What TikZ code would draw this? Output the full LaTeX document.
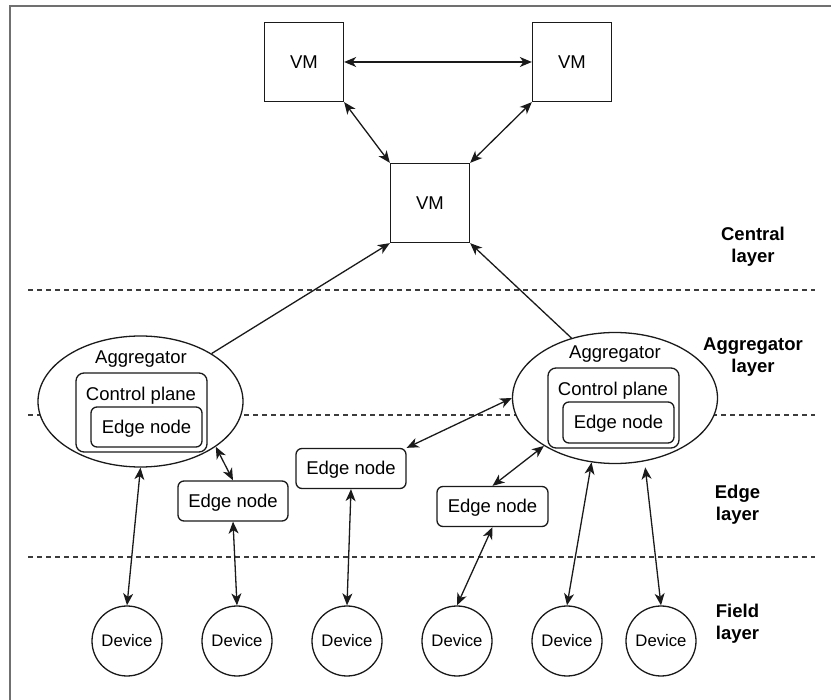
\documentclass[tikz,border=0pt]{standalone}
\usepackage{fontspec}
\setmainfont{Liberation Sans}
\usetikzlibrary{shapes.geometric,arrows.meta}
\definecolor{framegray}{HTML}{707070}
\definecolor{ink}{HTML}{1A1A1A}
\begin{document}
\begin{tikzpicture}[x=1pt,y=-1pt,
  tip/.tip={Stealth[length=12pt,width=10pt,inset=3.5pt]},
  txt/.style={font=\fontsize{18.5}{22}\selectfont, text=black, inner sep=0pt,
    text height=12.9pt, text depth=0pt},
  box/.style={draw=ink, line width=1.3pt, fill=white, inner sep=0pt, txt},
  vm/.style={box, minimum width=79pt, minimum height=79pt},
  edgebox/.style={box, rounded corners=6pt, minimum width=110pt, minimum height=40pt},
  ctrlbox/.style={box, rounded corners=8pt, minimum width=131pt, minimum height=79pt},
  agg/.style={box, ellipse, minimum width=205pt, minimum height=131pt},
  device/.style={box, circle, minimum size=70pt, font=\fontsize{16.7}{20}\selectfont,
    text height=11.7pt},
  layerlabel/.style={font=\bfseries\fontsize{18.5}{22}\selectfont, align=center, inner sep=0pt},
  sep/.style={draw=ink!85, line width=1.1pt, dash pattern=on 5pt off 4pt},
  link/.style={draw=ink, line width=1.3pt, tip-tip},
  uplink/.style={draw=ink, line width=1.3pt, -tip}
]
\useasboundingbox (0,0) rectangle (831,700);

% outer frame (left and top edges)
\draw[framegray, line width=2pt] (10,700) -- (10,6) -- (831,6);

% layer separators
\coordinate (s1a) at (28,290);  \coordinate (s1b) at (815,290);
\coordinate (s2a) at (28,415);  \coordinate (s2b) at (815,415);
\coordinate (s3a) at (28,557);  \coordinate (s3b) at (815,557);
\draw[sep] (s1a) -- (s1b);
\draw[sep] (s2a) -- (s2b);
\draw[sep] (s3a) -- (s3b);

% central layer
\node[vm] (vmL) at (304,62) {VM};
\node[vm] (vmR) at (572,62) {VM};
\node[vm] (vmC) at (430,203) {VM};

% aggregator layer
\node[agg] (aggL) at (140.5,401.5) {};
\node[txt] (aggLtxt) at (141,357) {Aggregator};
\node[ctrlbox] (cpL) at (141.5,412.5) {};
\node[txt] (cpLtxt) at (141,394) {Control plane};
\node[edgebox, minimum width=111pt] (enL) at (146.5,427) {Edge node};

\node[agg] (aggR) at (615,398) {};
\node[txt] (aggRtxt) at (615,352) {Aggregator};
\node[ctrlbox, minimum height=80pt] (cpR) at (613.5,408) {};
\node[txt] (cpRtxt) at (613,389) {Control plane};
\node[edgebox, minimum width=111pt, minimum height=41pt] (enR) at (618.5,422.5) {Edge node};

% edge layer
\node[edgebox] (e1) at (233,501) {Edge node};
\node[edgebox] (e2) at (351,468.5) {Edge node};
\node[edgebox, minimum width=111pt] (e3) at (492.5,506.5) {Edge node};

% field layer
\node[device] (d1) at (127,641) {Device};
\node[device] (d2) at (237,641) {Device};
\node[device] (d3) at (347,641) {Device};
\node[device] (d4) at (457,641) {Device};
\node[device] (d5) at (567,641) {Device};
\node[device] (d6) at (661,641) {Device};

% layer names
\node[layerlabel] (lc) at (753,247) {Central\\layer};
\node[layerlabel] (la) at (753,357) {Aggregator\\layer};
\node[layerlabel] (le) at (737.5,505) {Edge\\layer};
\node[layerlabel] (lf) at (737.5,623.5) {Field\\layer};

% connections between VMs
\draw[link] (vmL.east) -- (vmR.west);
\draw[link] (vmL.south east) -- (vmC.north west);
\draw[link] (vmR.south west) -- (vmC.north east);

% aggregators up to the central VM
\draw[uplink] (aggL.34) -- (vmC.south west);
\draw[uplink] (aggR.126) -- (vmC.south east);

% aggregator / edge / device links
\draw[link] (aggL.270) -- (d1.north);
\draw[link] (aggL.-31) -- (e1.north);
\draw[link] (e1.south) -- (d2.north);
\draw[link] (e2.south) -- (d3.north);
\draw[link] (e2.north east) -- (aggR.180);
\draw[link] (e3.north) -- (aggR.214);
\draw[link] (e3.south) -- (d4.north);
\draw[link] (aggR.250) -- (d5.north);
\draw[link, shorten <=6pt] (aggR.-65) -- (d6.north);
\end{tikzpicture}
\end{document}
